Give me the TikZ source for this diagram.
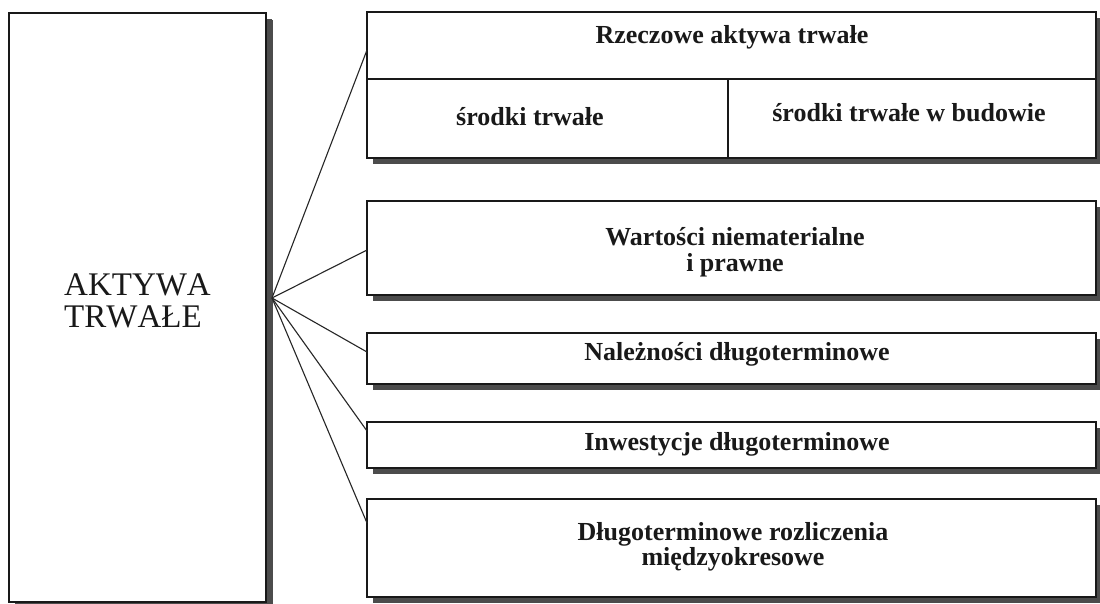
\documentclass[tikz,border=0pt]{standalone}
\usepackage{fontspec}
\setmainfont{Liberation Serif}
\newfontfamily\titlefont[Kerning=Off]{Liberation Serif}
\usetikzlibrary{shadows}
\begin{document}
\begin{tikzpicture}[x=1pt,y=-1pt,
  box/.style={draw=black!90, line width=1.8pt, fill=white, anchor=north west,
    inner sep=0pt, outer sep=0pt,
    drop shadow={shadow xshift=6pt, shadow yshift=-6pt, fill=black!70, opacity=1}},
  divider/.style={draw=black!90, line width=1.5pt},
  lbl/.style={font=\bfseries\fontsize{26}{27}\selectfont, text=black!90,
    anchor=base, inner sep=0pt},
  title/.style={font=\titlefont\fontsize{33}{32}\selectfont, text=black!90,
    anchor=base west, inner sep=0pt},
  link/.style={line width=1.1pt, draw=black!85}]
\useasboundingbox (0,0) rectangle (1100,604);
\fill[white] (0,0) rectangle (1100,604);

% main block on the left
\node[box, minimum width=257pt, minimum height=589pt,
  drop shadow={shadow xshift=7pt, shadow yshift=-7pt, fill=black!70, opacity=1}]
  (main) at (9,13) {};
\node[title] (t1) at (64,295) {AKTYWA};
\node[title] (t2) at (64,327) {TRWAŁE};

% component blocks on the right
\node[box, minimum width=729pt, minimum height=146pt] (rz) at (367,12) {};
\node[box, minimum width=729pt, minimum height=94pt]  (wn) at (367,201) {};
\node[box, minimum width=729pt, minimum height=51pt]  (nd) at (367,333) {};
\node[box, minimum width=729pt, minimum height=46pt]  (id) at (367,422) {};
\node[box, minimum width=729pt, minimum height=98pt]  (dr) at (367,499) {};

% inner split of the first block
\coordinate (rzL) at (367,79);
\coordinate (rzR) at (1096,79);
\coordinate (rzM) at (728,79);
\coordinate (rzB) at (728,158);
\draw[divider] (rzL) -- (rzR);
\draw[divider] (rzM) -- (rzB);

% labels
\node[lbl] (l1)  at (732,44)  {Rzeczowe aktywa trwałe};
\node[lbl] (l1a) at (530,126) {środki trwałe};
\node[lbl] (l1b) at (909,122) {środki trwałe w budowie};
\node[lbl] (l2a) at (735,245) {Wartości niematerialne};
\node[lbl] (l2b) at (735,271) {i prawne};
\node[lbl] (l3)  at (737,360) {Należności długoterminowe};
\node[lbl] (l4)  at (737,450) {Inwestycje długoterminowe};
\node[lbl] (l5a) at (733,540) {Długoterminowe rozliczenia};
\node[lbl] (l5b) at (733,565) {międzyokresowe};

% fan of connectors
\coordinate (hub) at (272,298);
\coordinate (e1) at (367,50);
\coordinate (e2) at (367,250);
\coordinate (e3) at (367,352);
\coordinate (e4) at (367,431);
\coordinate (e5) at (367,523);
\foreach \e in {e1,e2,e3,e4,e5}
  \draw[link] (hub) -- (\e);
\end{tikzpicture}
\end{document}
